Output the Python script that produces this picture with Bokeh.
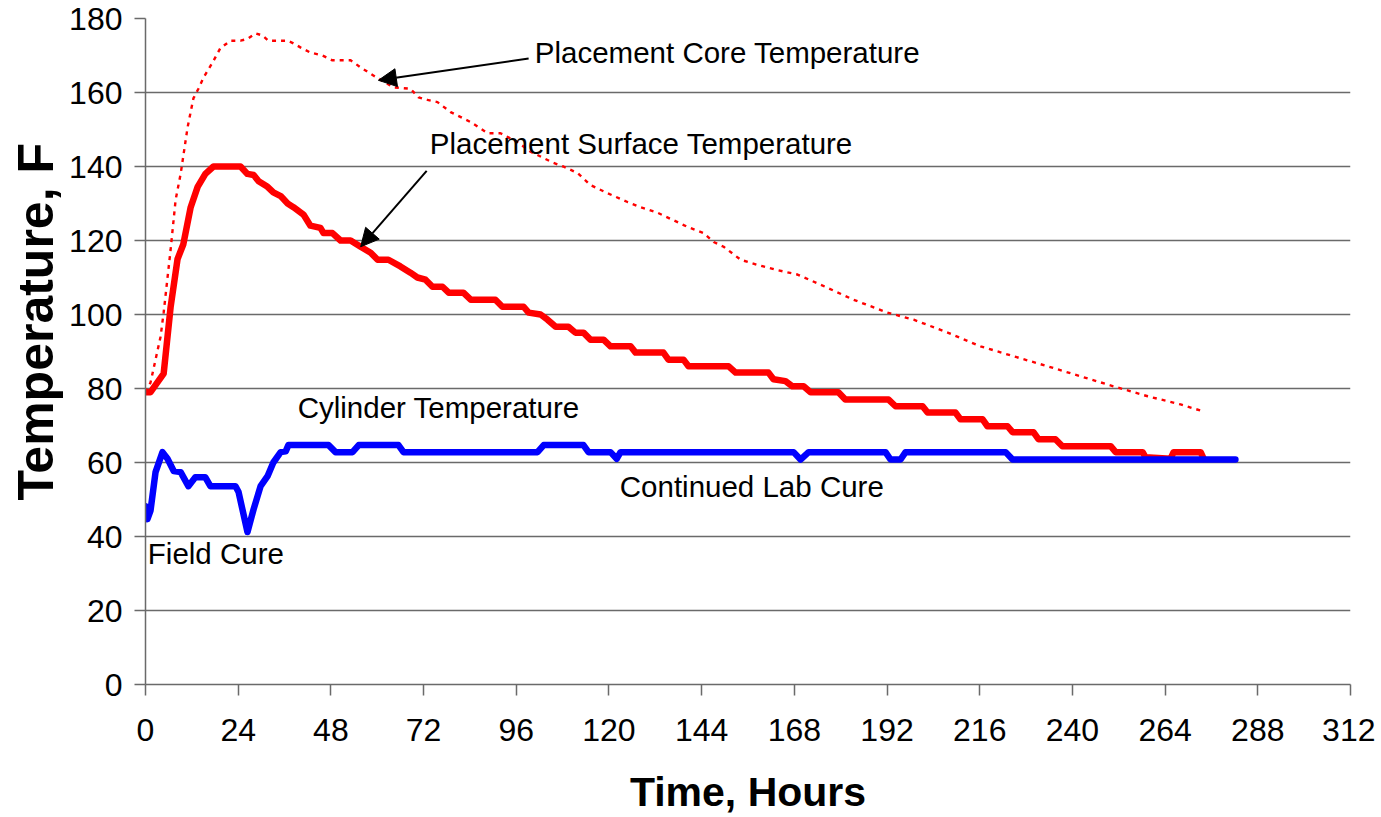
from bokeh.plotting import figure
from bokeh.models import FixedTicker, Label, Arrow, NormalHead, Range1d, Title
from bokeh.embed import file_html
from bokeh.resources import INLINE

# ---- data ----
surface_hours = [0, 1.3, 4.7, 6.5, 8.3, 9.8, 11.7, 13.5, 15.5, 17.6, 24.6, 26.4, 28.0, 29.3, 31.6, 33.1,
                 35.0, 36.8, 38.3, 40.9, 42.7, 45.3, 46.1, 48.4, 50.5, 53.1, 55.7, 58.3, 60.1, 62.9,
                 66.0, 68.6, 70.4, 72.5, 74.3, 76.9, 78.5, 82.3, 84.2, 90.6, 92.4, 97.9, 99.2, 102.3,
                 104.1, 106.2, 109.5, 111.3, 113.4, 115.2, 118.6, 120.4, 125.6, 126.9, 134.1, 135.4,
                 139.3, 140.6, 151.0, 152.8, 161.3, 162.6, 165.7, 167.5, 170.4, 172.2, 179.4, 181.2,
                 192.4, 194.2, 201.2, 202.5, 209.7, 211.0, 216.7, 218.0, 223.2, 224.5, 229.9, 231.2,
                 235.6, 237.4, 249.9, 251.2, 258.2, 258.9, 265.4, 266.2, 273.2, 274.0]
surface_temp = [79, 79, 84, 102, 115, 119, 129, 134.5, 138, 140, 140, 138, 137.7, 136, 134.5, 133,
                132, 130, 129, 127, 124, 123.4, 122, 122, 120, 120, 118.3, 116.7, 114.8, 114.8,
                113, 111.3, 110, 109.4, 107.5, 107.5, 105.9, 105.9, 104, 104, 102.1, 102.1, 100.5, 100,
                98.6, 96.7, 96.7, 95.1, 95.1, 93.2, 93.2, 91.4, 91.4, 89.7, 89.7, 87.8,
                87.8, 86, 86, 84.3, 84.3, 82.5, 82, 80.6, 80.6, 79, 79, 77,
                77, 75.2, 75.2, 73.5, 73.5, 71.7, 71.7, 69.8, 69.8, 68.2, 68.2, 66.3,
                66.3, 64.4, 64.4, 62.8, 62.8, 61.4, 61, 62.8, 62.8, 61]

core_hours = [0, 1.3, 3.9, 4.7, 6.5, 7.8, 9.1, 10.9, 12.4, 13.7, 15.0, 17.3, 19.4, 22.0, 24.6, 26.4,
              28.5, 30.3, 31.8, 36.8, 38.3, 40.1, 42.7, 45.8, 48.4, 53.1, 55.7, 59.0, 64.2, 68.6,
              70.7, 73.0, 75.6, 79.0, 84.2, 88.6, 91.9, 96.3, 99.7, 105.6, 108.2, 111.9, 115.2,
              119.6, 124.8, 128.2, 132.6, 140.3, 144.5, 147.1, 149.7, 154.1, 158.5, 163.6, 168.8,
              176.0, 183.3, 192.1, 198.9, 207.7, 216.2, 224.8, 233.6, 242.1, 250.6, 259.5, 268.0, 273.9]
core_temp = [79, 81.6, 94, 100.5, 117.5, 131, 138, 150.6, 158.4, 161, 164, 168, 172, 174, 174, 174.5,
             176, 175.4, 174, 174, 173.3, 172.2, 170.8, 170, 168.7, 168.7, 166.8, 164.6, 161.4, 161,
             158.7, 158, 157.4, 154.7, 152, 149, 149, 146.6, 144, 141, 140, 138.2, 135,
             132.8, 130.4, 129, 127.5, 123.7, 122, 119.6, 118.3, 114.8, 113.4, 112, 110.8,
             107.5, 104, 100.5, 98.6, 95.1, 91.4, 88.7, 86, 83.3, 80.6, 77.9, 75.7, 73.8]

cyl_hours = [0, 0.5, 1.3, 2.6, 4.4, 5.7, 7.3, 9.1, 11.1, 12.9, 15.5, 16.8, 23.3, 24.1, 26.4, 28.0,
             29.8, 31.6, 33.1, 35.0, 36.3, 37.0, 47.4, 49.2, 53.6, 55.2, 65.5, 66.8, 101.5, 103.1,
             113.4, 114.7, 120.4, 122.0, 123.0, 167.8, 169.6, 171.7, 191.6, 192.9, 195.5, 196.8,
             222.7, 224.5, 282.2]
cyl_temp = [48.2, 44.7, 47, 57.4, 62.8, 61, 57.7, 57.4, 53.6, 56, 56, 53.6, 53.6, 52, 41.2, 47.4,
            53.6, 56.3, 60, 62.8, 63, 64.7, 64.7, 62.8, 62.8, 64.7, 64.7, 62.8, 62.8, 64.7,
            64.7, 62.8, 62.8, 61, 62.8, 62.8, 60.8, 62.8, 62.8, 60.8, 60.8, 62.8,
            62.8, 60.8, 60.8]

x_ticks = [0, 24, 48, 72, 96, 120, 144, 168, 192, 216, 240, 264, 288, 312]
y_ticks = [0, 20, 40, 60, 80, 100, 120, 140, 160, 180]

FONT = "Liberation Sans"

p = figure(width=1375, height=817, output_backend="svg", toolbar_location=None,
           x_range=Range1d(0, 312), y_range=Range1d(0, 180),
           min_border_left=145, min_border_right=25, min_border_top=18, min_border_bottom=131)
p.outline_line_color = None
p.background_fill_color = "white"
p.border_fill_color = "white"

p.xaxis.ticker = FixedTicker(ticks=x_ticks)
p.yaxis.ticker = FixedTicker(ticks=y_ticks)
p.xgrid.grid_line_color = None
p.ygrid.grid_line_color = "#6a6a6a"
p.ygrid.grid_line_width = 1.5

for ax in (p.xaxis[0], p.yaxis[0]):
    ax.axis_line_color = "#6a6a6a"
    ax.axis_line_width = 1.5
    ax.major_tick_line_color = "#6a6a6a"
    ax.major_tick_line_width = 1.5
    ax.major_tick_in = 0
    ax.major_tick_out = 11
    ax.minor_tick_line_color = None
    ax.major_label_text_font = FONT
    ax.major_label_text_font_size = "32px"
    ax.major_label_text_color = "black"
    ax.axis_label_text_font = FONT
    ax.axis_label_text_font_style = "bold"
    ax.axis_label_text_color = "black"

p.xaxis.major_label_standoff = 23
p.yaxis.major_label_standoff = 12
p.xaxis.axis_label = "Time, Hours"
p.xaxis.axis_label_text_font_size = "41px"
p.xaxis.axis_label_standoff = 25

# y-axis title as a side title, anchored from the bottom so it sits where the reference has it
ytitle = Title(text="Temperature, F", align="left", offset=184, standoff=6,
               text_font=FONT, text_font_size="50px", text_font_style="bold", text_color="black")
p.add_layout(ytitle, "left")

p.line(core_hours, core_temp, line_color="#ff0000", line_width=2.4, line_dash="4 5")
p.line(surface_hours, surface_temp, line_color="#ff0000", line_width=6.5,
       line_join="round", line_cap="round")
p.line(cyl_hours, cyl_temp, line_color="#0000ff", line_width=6.5,
       line_join="round", line_cap="round")

labels = [
    ("Placement Core Temperature", 100.8, 170.8),
    ("Placement Surface Temperature", 73.6, 146.3),
    ("Cylinder Temperature", 39.4, 74.9),
    ("Continued Lab Cure", 122.8, 53.4),
    ("Field Cure", 0.6, 35.3),
]
for txt, lx, ly in labels:
    p.add_layout(Label(x=lx, y=ly, text=txt, text_font=FONT, text_font_size="29.5px",
                       text_baseline="middle", text_align="left", text_color="black"))

arrows = [(99.2, 169.2, 60.3, 163.3), (72.8, 138.8, 55.7, 118.3)]
for xs, ys, xe, ye in arrows:
    p.add_layout(Arrow(end=NormalHead(size=18, fill_color="black", line_color="black", line_width=1),
                       x_start=xs, y_start=ys, x_end=xe, y_end=ye,
                       line_color="black", line_width=2))

open("out.html", "w").write(file_html(p, INLINE))
